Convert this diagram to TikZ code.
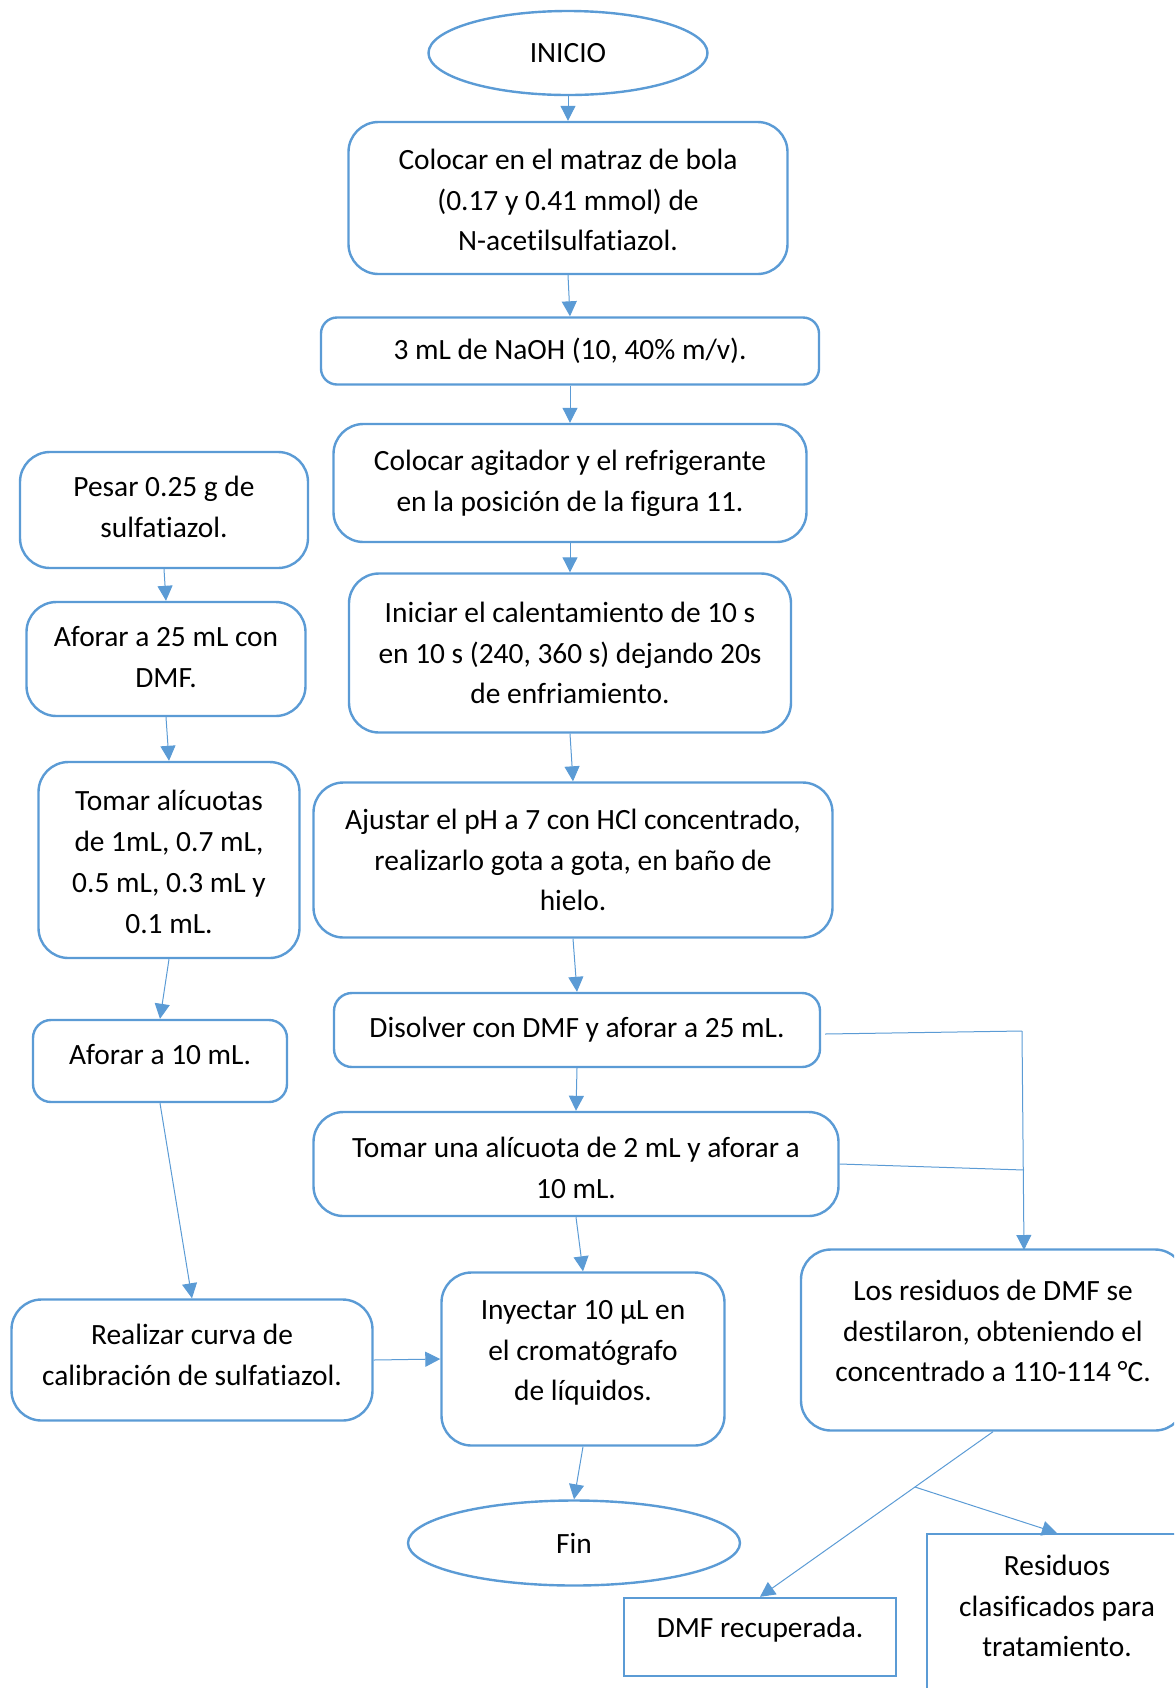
\documentclass[tikz,border=0pt]{standalone}
\usepackage{fontspec}
\setmainfont{Carlito}[Ligatures=NoCommon]
\usetikzlibrary{shapes.geometric,arrows.meta,calc}
\definecolor{oblue}{HTML}{5B9BD5}
\tikzset{
  txt/.style={font=\fontsize{14.7}{20.4}\selectfont, align=center, text=black},
  rbox/.style={txt, draw=oblue, line width=1.2pt, rounded corners=15pt, inner sep=0pt},
  sqbox/.style={txt, draw=oblue, line width=1.2pt, inner sep=0pt},
  ell/.style={txt, draw=oblue, line width=1.2pt, ellipse, inner sep=0pt},
  arr/.style={draw=oblue, line width=0.5pt, -{Triangle[length=7.5pt,width=7.5pt]}},
  ln/.style={draw=oblue, line width=0.5pt}
}
\begin{document}
\begin{tikzpicture}[x=0.5pt,y=-0.5pt]
\useasboundingbox (0,0) rectangle (1174,1688);
\clip (0,0) rectangle (1174,1688);
% main column
\node[ell, minimum width=139.5pt, minimum height=42pt] (ini) at (568,53) {INICIO};
\node[rbox, minimum width=219.5pt, minimum height=76pt] (b1) at (568,198) {};
\node[txt] (b1t) at (568,200) {Colocar en el matraz de bola\\(0.17 y 0.41 mmol) de\\N-acetilsulfatiazol.};
\node[rbox, rounded corners=8pt, minimum width=249pt, minimum height=33.5pt] (b2) at (570,351) {3 mL de NaOH (10, 40\% m/v).};
\node[rbox, minimum width=236.5pt, minimum height=59pt] (b3) at (570,483) {Colocar agitador y el refrigerante\\en la posición de la figura 11.};
\node[rbox, minimum width=221pt, minimum height=79.5pt] (b4) at (570,653) {Iniciar el calentamiento de 10 s\\en 10 s (240, 360 s) dejando 20s\\de enfriamiento.};
\node[rbox, minimum width=259.5pt, minimum height=77.5pt] (b5) at (573,860) {Ajustar el pH a 7 con HCl concentrado,\\realizarlo gota a gota, en baño de\\hielo.};
\node[rbox, rounded corners=9pt, minimum width=243pt, minimum height=37pt] (b6) at (577,1030) {Disolver con DMF y aforar a 25 mL.};
\node[rbox, minimum width=262.5pt, minimum height=52pt] (b7) at (576,1164) {};
\node[txt] (b7t) at (576,1168) {Tomar una alícuota de 2 mL y aforar a\\10 mL.};
\node[rbox, minimum width=141.5pt, minimum height=86.5pt] (b8) at (583,1359) {};
\node[txt] (b8t) at (583,1353) {Inyectar 10 µL en\\el cromatógrafo\\de líquidos.};
\node[ell, minimum width=166pt, minimum height=42.5pt] (fin) at (574,1543) {Fin};
% left column
\node[rbox, minimum width=144pt, minimum height=58pt] (l1) at (164,510) {};
\node[txt] (l1t) at (164,507) {Pesar 0.25 g de\\sulfatiazol.};
\node[rbox, minimum width=139.5pt, minimum height=57pt] (l2) at (166,659) {};
\node[txt] (l2t) at (166,657) {Aforar a 25 mL con\\DMF.};
\node[rbox, minimum width=130.5pt, minimum height=98pt] (l3) at (169,860) {};
\node[txt] (l3t) at (169,862) {Tomar alícuotas\\de 1mL, 0.7 mL,\\0.5 mL, 0.3 mL y\\0.1 mL.};
\node[rbox, rounded corners=9pt, minimum width=127pt, minimum height=41pt] (l4) at (160,1061) {};
\node[txt] (l4t) at (160,1055) {Aforar a 10 mL.};
\node[rbox, minimum width=180.5pt, minimum height=60.5pt] (l5) at (192,1360) {};
\node[txt] (l5t) at (192,1355) {Realizar curva de\\calibración de sulfatiazol.};
% right side
\node[rbox, minimum width=192pt, minimum height=90.5pt] (r1) at (993,1340) {};
\node[txt] (r1t) at (993,1331) {Los residuos de DMF se\\destilaron, obteniendo el\\concentrado a 110-114 °C.};
\node[sqbox, minimum width=136pt, minimum height=39pt] (r2) at (760,1637) {};
\node[txt] (r2t) at (760,1630) {DMF recuperada.};
\node[sqbox, minimum width=130pt, minimum height=100pt, anchor=north] (r3) at (1057,1533) {};
\node[txt] (r3t) at (1057,1606) {Residuos\\clasificados para\\tratamiento.};
% connectors main
\draw[arr] (ini.south) -- (b1.north);
\draw[arr] (b1.south) -- (b2.north);
\draw[arr] (b2.south) -- (b3.north);
\draw[arr] (b3.south) -- (b4.north);
\draw[arr] (b4.south) -- (b5.north);
\draw[arr] (b5.south) -- (b6.north);
\draw[arr] (b6.south) -- (b7.north);
\draw[arr] (b7.south) -- (b8.north);
\draw[arr] (b8.south) -- (fin.north);
% left connectors
\draw[arr] (l1.south) -- (l2.north);
\draw[arr] (l2.south) -- (l3.north);
\draw[arr] (l3.south) -- (l4.north);
\draw[arr] (l4.south) -- (l5.north);
\draw[arr] (l5.east) -- (b8.west);
% right connectors
\coordinate (j1) at (1022,1031);
\coordinate (j2) at (1024,1170);
\coordinate (rt) at (1024,1250);
\draw[ln] ($(b6.east)+(4,4)$) -- (j1);
\draw[ln] (b7.east) -- (j2);
\draw[arr] (j1) -- (rt);
\coordinate (br) at ($(r1.south)!0.335!(r2.north)$);
\draw[arr] (r1.south) -- (r2.north);
\draw[arr] (br) -- (r3.north);
\end{tikzpicture}
\end{document}
